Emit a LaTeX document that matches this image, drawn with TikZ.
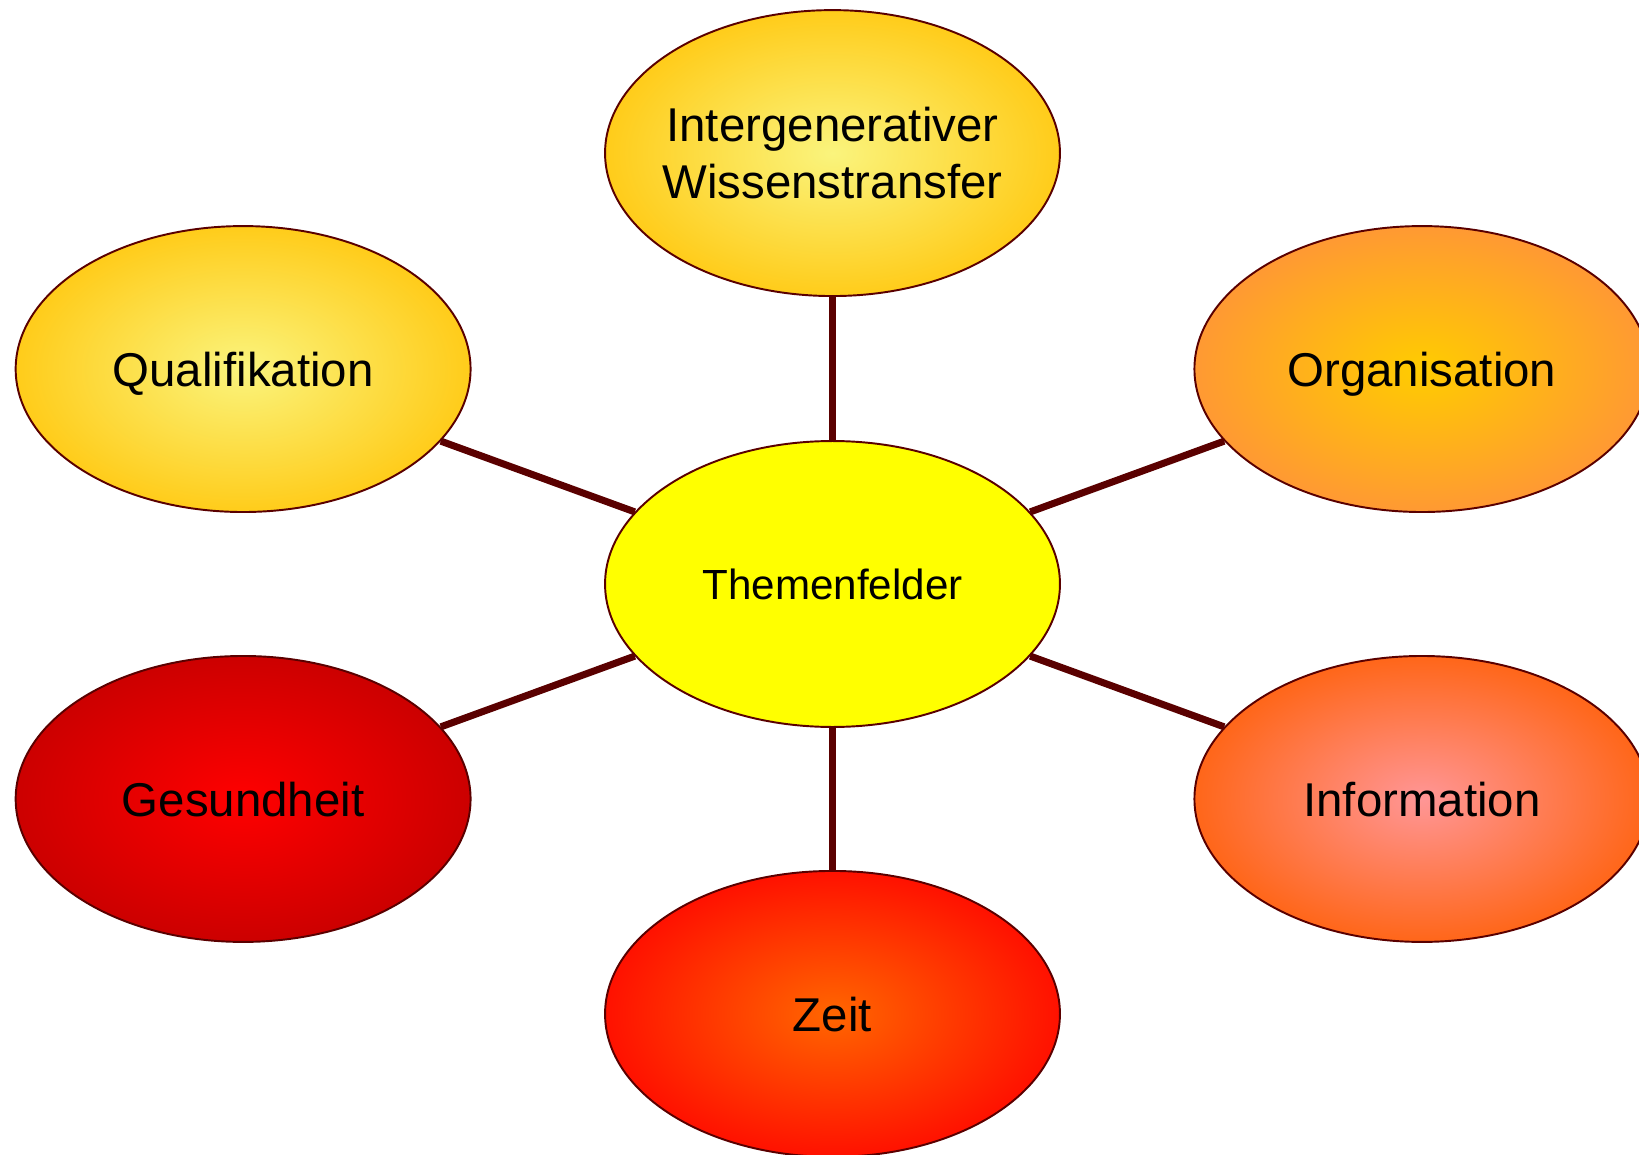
\documentclass[tikz,border=0pt]{standalone}
\usepackage{fontspec}
\setmainfont{Liberation Sans}
\usetikzlibrary{shapes.geometric,positioning}

\definecolor{rim}{HTML}{5A0000}
\definecolor{lemon}{HTML}{FFFF00}
\definecolor{pale}{HTML}{FAF47D}
\definecolor{golden}{HTML}{FFCC1A}
\definecolor{amber}{HTML}{FFCC00}
\definecolor{apricot}{HTML}{FF9933}
\definecolor{bloodred}{HTML}{FF0000}
\definecolor{darkred}{HTML}{CC0000}
\definecolor{salmon}{HTML}{FF9696}
\definecolor{tangerine}{HTML}{FF6619}
\definecolor{flame}{HTML}{FF6600}
\definecolor{scarlet}{HTML}{FF1100}

\begin{document}
\begin{tikzpicture}[x=0.02cm,y=-0.02cm,on grid,node distance=4.3cm and 11.79cm,
        bubble/.style={ellipse,draw=rim,line width=1.1pt,minimum width=9.1cm,
            minimum height=5.72cm,inner sep=0pt,inner xsep=-0.4cm,align=center,
            text depth=0pt,font=\fontsize{27}{32.4}\selectfont},
        glow/.style 2 args={shading=radial,inner color=#1,outer color=#2},
        link/.style={draw=rim,line width=4pt}]

    \clip (0,0) rectangle (1639,1155);

    \node[bubble,fill=lemon,font=\fontsize{24}{28.8}\selectfont] (mitte) at (832.5,584) {Themenfelder};
    \node[bubble,glow={pale}{golden}] (wissen) [above=8.62cm of mitte] {Intergenerativer\\Wissenstransfer};
    \node[bubble,glow={pale}{golden}] (quali) [above left=of mitte] {Qualifikation};
    \node[bubble,glow={amber}{apricot}] (orga) [above right=of mitte] {Organisation};
    \node[bubble,glow={bloodred}{darkred}] (gesund) [below left=of mitte] {Gesundheit};
    \node[bubble,glow={salmon}{tangerine}] (info) [below right=of mitte] {Information};
    \node[bubble,glow={flame}{scarlet}] (zeit) [below=8.6cm of mitte] {Zeit};

    \path (mitte) edge[link] (wissen)
        (mitte) edge[link] (quali)
        (mitte) edge[link] (orga)
        (mitte) edge[link] (gesund)
        (mitte) edge[link] (info)
        (mitte) edge[link] (zeit);

\end{tikzpicture}
\end{document}
